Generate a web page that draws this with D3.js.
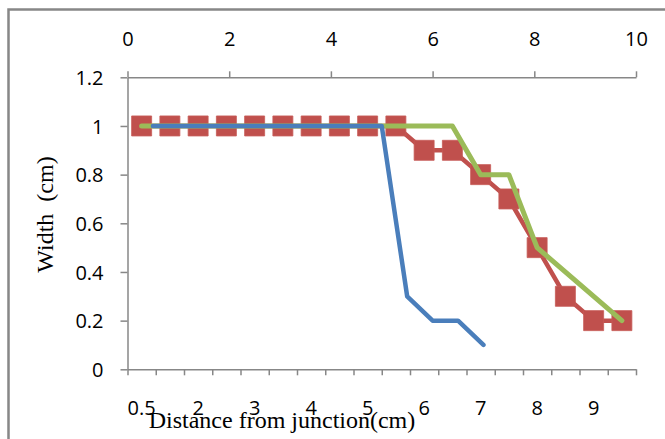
<!DOCTYPE html>
<html>
<head>
<meta charset="utf-8">
<script src="https://cdn.jsdelivr.net/npm/d3@7"></script>
<style>
  html, body { margin: 0; padding: 0; background: #fff; }
  svg { display: block; }
</style>
</head>
<body>
<svg id="chart" width="665" height="439"></svg>
<script>
// ---- data ----
const categories = ["0.5","1","2","2.5","3","3.5","4","4.5","5","5.5","6","6.5","7","7.5","8","8.5","9","9.5"];
const redValues   = [1,1,1,1,1,1,1,1,1,1,0.9,0.9,0.8,0.7,0.5,0.3,0.2,0.2];
const greenValues = [1,1,1,1,1,1,1,1,1,1,1,1,0.8,0.8,0.5,null,null,0.2];
const blueX = [0.5,1,2,3,4,5,5.5,6,6.5,7];
const blueY = [1,1,1,1,1,1,0.3,0.2,0.2,0.1];
const yTicks = [0,0.2,0.4,0.6,0.8,1,1.2];
const topTicks = [0,2,4,6,8,10];
const xTitle = "Distance from junction(cm)";
const yTitle = "Width  (cm)";

// ---- layout ----
const svg = d3.select("#chart");
const L = 127.5, R = 636, T = 77.3, B = 369.3;
const axisColor = "#878787";
const tickFont = "'Open Sans', sans-serif";

svg.append("rect").attr("x", 8.5).attr("y", 9.5).attr("width", 700).attr("height", 500)
  .attr("fill", "#fff").attr("stroke", axisColor).attr("stroke-width", 2.5);

const y = d3.scaleLinear().domain([0, 1.2]).range([B, T]);
const xBand = d3.scaleBand().domain(categories).range([L, R]).padding(0);
const xIdx = d3.scaleLinear().domain([0, categories.length]).range([L, R]);
const xTop = d3.scaleLinear().domain([0, 10]).range([L, R]);

function styleAxis(g) {
  g.select(".domain").attr("stroke", axisColor).attr("stroke-width", 1.5);
  g.selectAll(".tick line").attr("stroke", axisColor).attr("stroke-width", 1.5);
  g.selectAll(".tick text").attr("fill", "#000").attr("font-family", tickFont).attr("font-size", 20);
}

// y axis
const gy = svg.append("g").attr("transform", `translate(${L},0)`)
  .call(d3.axisLeft(y).tickValues(yTicks).tickSize(7).tickPadding(17)
    .tickFormat(d => String(+d.toFixed(1))).tickSizeOuter(0));
styleAxis(gy);
gy.selectAll(".tick text").attr("dy", "0.36em");

// top axis (secondary, 0-10)
const gt = svg.append("g").attr("transform", `translate(0,${T})`)
  .call(d3.axisTop(xTop).tickValues(topTicks).tickSize(6).tickPadding(25.6).tickSizeOuter(0));
styleAxis(gt);

// bottom category axis: ticks at boundaries
const gbt = svg.append("g").attr("transform", `translate(0,${B})`)
  .call(d3.axisBottom(xIdx).tickValues(d3.range(categories.length + 1)).tickSize(6)
    .tickFormat("").tickSizeOuter(0));
styleAxis(gbt);
// bottom category labels (every other)
const gbl = svg.append("g").attr("transform", `translate(0,${B})`)
  .call(d3.axisBottom(xBand).tickSize(0).tickPadding(31.5)
    .tickFormat((d, i) => i % 2 === 0 ? d : ""));
gbl.select(".domain").remove();
styleAxis(gbl);

const cx = (d, i) => xBand(categories[i]) + xBand.bandwidth() / 2;

// red series with square markers
const redData = redValues.map((v, i) => ({ i, v }));
svg.append("path").datum(redData)
  .attr("d", d3.line().x(d => cx(null, d.i)).y(d => y(d.v)))
  .attr("fill", "none").attr("stroke", "#C0504D").attr("stroke-width", 4.5)
  .attr("stroke-linejoin", "round");
svg.append("g").selectAll("path").data(redData).join("path")
  .attr("d", d3.symbol().type(d3.symbolSquare).size(400))
  .attr("transform", d => `translate(${cx(null, d.i)},${y(d.v)})`)
  .attr("fill", "#C0504D").attr("stroke", "#C65A57").attr("stroke-width", 0.8);

// green series
const greenData = greenValues.map((v, i) => ({ i, v })).filter(d => d.v !== null);
svg.append("path").datum(greenData)
  .attr("d", d3.line().x(d => cx(null, d.i)).y(d => y(d.v)))
  .attr("fill", "none").attr("stroke", "#9BBB59").attr("stroke-width", 5)
  .attr("stroke-linejoin", "round").attr("stroke-linecap", "round");

// blue series (secondary x axis)
const blueData = blueX.map((v, i) => ({ x: v, v: blueY[i] }));
svg.append("path").datum(blueData)
  .attr("d", d3.line().x(d => xTop(d.x)).y(d => y(d.v)))
  .attr("fill", "none").attr("stroke", "#4A7EBB").attr("stroke-width", 4.5)
  .attr("stroke-linejoin", "round").attr("stroke-linecap", "round");

// titles
svg.append("text").attr("x", 282).attr("y", 428.3).attr("text-anchor", "middle")
  .attr("font-family", "'Liberation Serif', 'Times New Roman', serif").attr("font-size", 24)
  .attr("fill", "#000").text(xTitle);
svg.append("text").attr("transform", "translate(53,214.5) rotate(-90)").attr("text-anchor", "middle")
  .attr("font-family", "'Liberation Serif', 'Times New Roman', serif").attr("font-size", 24)
  .attr("fill", "#000").style("white-space", "pre").text(yTitle);
</script>
</body>
</html>
